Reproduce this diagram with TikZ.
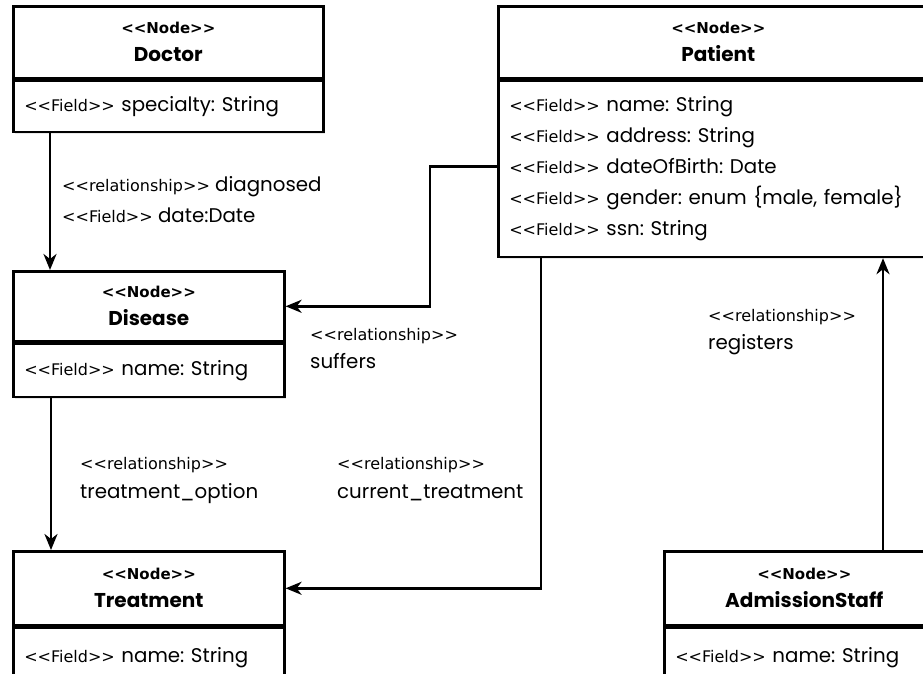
\documentclass[tikz,border=0pt]{standalone}
\usepackage{fontspec}
\setmainfont{Poppins}
\newfontfamily\tagfont{DejaVu Sans}
\usetikzlibrary{arrows.meta,shadows}

\frenchspacing
\newcommand{\stereo}[1]{\textless\kern0pt\textless#1\textgreater\kern0pt\textgreater}
\newcommand{\nodetag}{{\tagfont\bfseries\fontsize{15}{15}\selectfont\stereo{Node}}}
\newcommand{\fieldtag}{{\tagfont\fontsize{16}{16}\selectfont\stereo{Field}}}
\newcommand{\reltag}{{\tagfont\fontsize{16}{16}\selectfont\stereo{relationship}}}

\tikzset{
  boxline/.style={draw, line width=2.6pt, fill=white,
    drop shadow={shadow xshift=2pt, shadow yshift=-2pt, opacity=0.18}},
  headbox/.style={boxline, anchor=north west, inner sep=0pt, align=center,
    font=\fontsize{20}{28}\selectfont\bfseries},
  fieldbox/.style={boxline, anchor=north west, inner xsep=11pt, inner ysep=0pt,
    align=left, font=\fontsize{19.8}{31}\selectfont},
  rellabel/.style={anchor=base west, align=left, inner sep=0pt},
  link/.style={-{Stealth[length=16pt, width=13pt, inset=5pt]}, line width=2.6pt}
}

\begin{document}
\begin{tikzpicture}[x=1pt, y=-1pt]
  \useasboundingbox (0,0) rectangle (923,674);

  % doctor
  \node[headbox, minimum width=310pt, minimum height=72pt] (doctor) at (12,5)
    {\nodetag\\Doctor};
  \node[fieldbox, text width=288pt, minimum height=51pt] (doctorf) at (doctor.south west)
    {\fieldtag{} specialty: String};

  % patient
  \node[headbox, minimum width=440pt, minimum height=72pt] (patient) at (497,5)
    {\nodetag\\Patient};
  \node[fieldbox, text width=418pt, minimum height=176pt] (patientf) at (patient.south west)
    {\fieldtag{} name: String\\
     \fieldtag{} address: String\\
     \fieldtag{} dateOfBirth: Date\\
     \fieldtag{} gender: enum \{male, female\}\\
     \fieldtag{} ssn: String};

  % disease
  \node[headbox, minimum width=271pt, minimum height=70pt] (disease) at (12,270)
    {\nodetag\\Disease};
  \node[fieldbox, text width=249pt, minimum height=53pt] (diseasef) at (disease.south west)
    {\fieldtag{} name: String};

  % treatment
  \node[headbox, minimum width=271pt, minimum height=74pt] (treatment) at (12,550)
    {\nodetag\\Treatment};
  \node[fieldbox, text width=249pt, minimum height=60pt] (treatmentf) at (treatment.south west)
    {\fieldtag{} name: String};

  % admission staff
  \node[headbox, minimum width=280pt, minimum height=74pt] (staff) at (663,550)
    {\nodetag\\AdmissionStaff};
  \node[fieldbox, text width=258pt, minimum height=60pt] (stafff) at (staff.south west)
    {\fieldtag{} name: String};

  % relationships
  \draw[link] ([xshift=38pt]doctorf.south west) -- ([xshift=38pt]disease.north west);
  \draw[link] ([xshift=39pt]diseasef.south west) -- ([xshift=39pt]treatment.north west);
  \draw[link] ([yshift=-87pt]patientf.north west) -- ++(-67pt,0) |- (disease.east);
  \draw[link] ([xshift=44pt]patientf.south west) |- (treatment.east);
  \coordinate (regfoot) at ([xshift=220pt]staff.north west);
  \draw[link] (regfoot) -- (regfoot |- patientf.south);

  \node[rellabel, font=\fontsize{19.8}{31}\selectfont] (diaglbl) at (62,222)
    {\reltag{} diagnosed\\\fieldtag{} date:Date};
  \node[rellabel, font=\fontsize{19.8}{28}\selectfont] (suflbl) at (310,368)
    {\reltag\\suffers};
  \node[rellabel, font=\fontsize{19.8}{29}\selectfont] (optlbl) at (80,498)
    {\reltag\\treatment\_option};
  \node[rellabel, font=\fontsize{19.8}{29}\selectfont] (curlbl) at (337,498)
    {\reltag\\current\_treatment};
  \node[rellabel, font=\fontsize{19.8}{28}\selectfont] (reglbl) at (708,349)
    {\reltag\\registers};
\end{tikzpicture}
\end{document}
